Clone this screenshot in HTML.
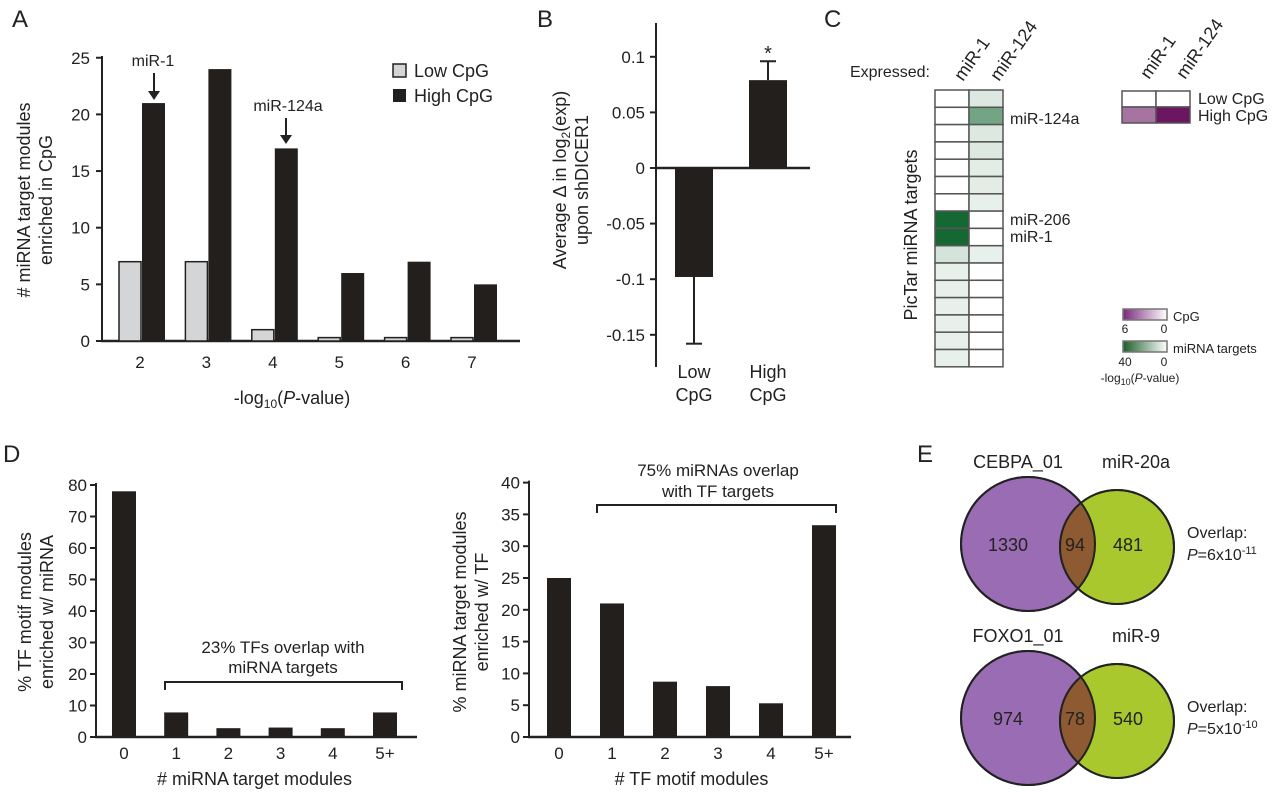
<!DOCTYPE html>
<html><head><meta charset="utf-8"><style>
body{margin:0;background:#fff}
svg text{font-family:"Liberation Sans",sans-serif;fill:#222}
</style></head><body>
<svg width="1280" height="791" viewBox="0 0 1280 791" xmlns="http://www.w3.org/2000/svg">
<g id="A"></g>
<g id="B"></g>
<g id="C"></g>
<g id="D1"></g>
<g id="D2"></g>
<g id="E"></g>
</svg>
<script>
// Panel A data
const aCats=["2","3","4","5","6","7"];
const aLow=[7,7,1,0.3,0.3,0.3];
const aHigh=[21,24,17,6,7,5];
const aTicks=[0,5,10,15,20,25];
// Panel B data
const bCats=["Low CpG","High CpG"];
const bVals=[-0.098,0.079];
const bErr=[0.06,0.017];
const bTicks=[0.1,0.05,0,-0.05,-0.1,-0.15];
const bTickLabels=["0.1","0.05","0","-0.05","-0.1","-0.15"];
// Panel C data (0..1 intensity)
const cMiR1=[0,0,0,0,0,0,0,1,1,0.18,0.1,0.1,0.1,0.1,0.1,0.1];
const cMiR124=[0.15,0.6,0.15,0.15,0.12,0.12,0.1,0,0,0.1,0,0,0,0,0,0];
const cCpG=[[0,0],[0.6,1]];
// Panel D data
const dLeftCats=["0","1","2","3","4","5+"];
const dLeftVals=[78,7.8,2.8,3,2.8,7.8];
const dLeftTicks=[0,10,20,30,40,50,60,70,80];
const dRightCats=["0","1","2","3","4","5+"];
const dRightVals=[25,21,8.7,8,5.3,33.3];
const dRightTicks=[0,5,10,15,20,25,30,35,40];
// Panel E data
const eSets=[["CEBPA_01","miR-20a",1330,94,481,"6x10","-11"],["FOXO1_01","miR-9",974,78,540,"5x10","-10"]];

const NS="http://www.w3.org/2000/svg";
function mk(parent,tag,attrs,text){const e=document.createElementNS(NS,tag);for(const k in attrs)e.setAttribute(k,attrs[k]);if(text!==undefined)e.textContent=text;parent.appendChild(e);return e;}
function T(p,x,y,s,size,anchor,extra){return mk(p,"text",Object.assign({x:x,y:y,"font-size":size||17,"text-anchor":anchor||"middle"},extra||{}),s);}

// ---------- A ----------
(function(){
const g=document.getElementById("A");
const y=v=>341-v*11.33, x0=140, dx=66.4;
T(g,12,27,"A",24,"start");
mk(g,"line",{x1:102,y1:56,x2:102,y2:341,stroke:"#222","stroke-width":2});
mk(g,"line",{x1:101,y1:341,x2:520,y2:341,stroke:"#222","stroke-width":2.5});
aTicks.forEach(t=>{mk(g,"line",{x1:96,y1:y(t),x2:102,y2:y(t),stroke:"#222","stroke-width":2});
 const e=T(g,90,y(t)+6,t,17,"end");});
aCats.forEach((c,i)=>{const cx=x0+i*dx;
 const lo=mk(g,"rect",{x:cx-21,y:y(aLow[i]),width:22,height:341-y(aLow[i]),fill:"#d4d5d6",stroke:"#222","stroke-width":1.5});
 
 const hi=mk(g,"rect",{x:cx+2,y:y(aHigh[i]),width:23,height:341-y(aHigh[i]),fill:"#231f1c"});
 
 const t=T(g,cx,368,c,17);});
T(g,292,404,"",18).innerHTML='-log<tspan font-size="12" dy="4">10</tspan><tspan dy="-4">(</tspan><tspan font-style="italic">P</tspan>-value)';
T(g,0,0,"# miRNA target modules",18,"middle",{transform:"translate(30,200) rotate(-90)"});
T(g,0,0,"enriched in CpG",18,"middle",{transform:"translate(52,200) rotate(-90)"});
T(g,153,66,"miR-1",16);
mk(g,"line",{x1:154,y1:73,x2:154,y2:95,stroke:"#222","stroke-width":2});mk(g,"path",{d:"M148,91 L154,100 L160,91Z",fill:"#222"});
T(g,288,111,"miR-124a",16);
mk(g,"line",{x1:286,y1:118,x2:286,y2:139,stroke:"#222","stroke-width":2});mk(g,"path",{d:"M280,135 L286,144 L292,135Z",fill:"#222"});
mk(g,"rect",{x:393,y:64,width:13,height:13,fill:"#d4d5d6",stroke:"#222","stroke-width":1.5});T(g,414,77,"Low CpG",18,"start");
mk(g,"rect",{x:393,y:89,width:13,height:13,fill:"#231f1c"});T(g,414,102,"High CpG",18,"start");
})();

// ---------- B ----------
(function(){
const g=document.getElementById("B");
const y=v=>168-v*1112;
const ax=656;
T(g,537,27,"B",24,"start");
mk(g,"line",{x1:ax,y1:23,x2:ax,y2:367,stroke:"#222","stroke-width":2});
mk(g,"line",{x1:ax-1,y1:168,x2:810,y2:168,stroke:"#222","stroke-width":2.5});
bTicks.forEach((t,i)=>{mk(g,"line",{x1:ax-6,y1:y(t),x2:ax,y2:y(t),stroke:"#222","stroke-width":2});
 const e=T(g,645,y(t)+6,bTickLabels[i],17,"end");});
const xs=[694,768];
bVals.forEach((v,i)=>{const top=Math.min(y(v),168),h=Math.abs(y(v)-168);
 const r=mk(g,"rect",{x:xs[i]-19,y:top,width:38,height:h,fill:"#231f1c"});
 const end=v<0?v-bErr[i]:v+bErr[i];
 mk(g,"line",{x1:xs[i],y1:y(v),x2:xs[i],y2:y(end),stroke:"#222","stroke-width":2});
 mk(g,"line",{x1:xs[i]-8,y1:y(end),x2:xs[i]+8,y2:y(end),stroke:"#222","stroke-width":2});
 const w=bCats[i].split(" ");T(g,xs[i],378,w[0],18);T(g,xs[i],401,w[1],18);});
T(g,768,60,"*",20);
T(g,0,0,"",18,"middle",{transform:"translate(566,180) rotate(-90)"}).innerHTML='Average Δ in log<tspan font-size="12" dy="4">2</tspan><tspan dy="-4">(exp)</tspan>';
T(g,0,0,"upon shDICER1",18,"middle",{transform:"translate(588,180) rotate(-90)"});
})();

// ---------- C ----------
(function(){
const g=document.getElementById("C");
T(g,824,27,"C",24,"start");
T(g,930,77,"Expressed:",16,"end");
T(g,0,0,"miR-1",18,"start",{transform:"translate(963,82) rotate(-55)"});
T(g,0,0,"miR-124",18,"start",{transform:"translate(999,82) rotate(-55)"});
const green=a=>`rgb(${Math.round(255-a*(255-22))},${Math.round(255-a*(255-104))},${Math.round(255-a*(255-50))})`;
const rh=17.3;
for(let i=0;i<16;i++){
 const a=mk(g,"rect",{x:935,y:90+i*rh,width:34,height:rh,fill:green(cMiR1[i]),stroke:"#555","stroke-width":1.5});
 const b=mk(g,"rect",{x:969,y:90+i*rh,width:34,height:rh,fill:green(cMiR124[i]),stroke:"#555","stroke-width":1.5});
}
T(g,1010,124,"miR-124a",16,"start");T(g,1010,225,"miR-206",16,"start");T(g,1010,242,"miR-1",16,"start");
T(g,0,0,"PicTar miRNA targets",18,"middle",{transform:"translate(917,235) rotate(-90)"});
T(g,0,0,"miR-1",18,"start",{transform:"translate(1149,80) rotate(-55)"});
T(g,0,0,"miR-124",18,"start",{transform:"translate(1185,80) rotate(-55)"});
const purple=a=>`rgb(${Math.round(255-a*(255-108))},${Math.round(255-a*(255-22))},${Math.round(255-a*(255-98))})`;
cCpG.forEach((row,r)=>row.forEach((v,c)=>{const e=mk(g,"rect",{x:1122+c*34,y:91+r*16,width:34,height:16,fill:purple(v),stroke:"#555","stroke-width":1.5});}));
T(g,1198,104,"Low CpG",16,"start");T(g,1198,121,"High CpG",16,"start");
const defs=mk(g,"defs",{});
const lp=mk(defs,"linearGradient",{id:"gp"});mk(lp,"stop",{offset:"0","stop-color":"#7a2a7a"});mk(lp,"stop",{offset:"1","stop-color":"#fff"});
const lg=mk(defs,"linearGradient",{id:"gg"});mk(lg,"stop",{offset:"0","stop-color":"#1e5e2a"});mk(lg,"stop",{offset:"1","stop-color":"#fff"});
mk(g,"rect",{x:1123,y:309,width:44,height:11,fill:"url(#gp)",stroke:"#777","stroke-width":1.5});T(g,1173,321,"CpG",13,"start");
T(g,1125,333,"6",12);T(g,1164,333,"0",12);
mk(g,"rect",{x:1123,y:341,width:44,height:11,fill:"url(#gg)",stroke:"#777","stroke-width":1.5});T(g,1173,353,"miRNA targets",13,"start");
T(g,1125,366,"40",12);T(g,1164,366,"0",12);
T(g,1140,382,"",12).innerHTML='-log<tspan font-size="9" dy="3">10</tspan><tspan dy="-3">(</tspan><tspan font-style="italic">P</tspan>-value)';
})();

// ---------- D ----------
function barPanel(id,x0,axisX,dx,cats,vals,ticks,scale,xlabel,ylab1,ylab2,ylx,xEnd){
 const g=document.getElementById(id);const yb=737;const y=v=>yb-v*scale;
 mk(g,"line",{x1:axisX,y1:y(ticks[ticks.length-1])-2,x2:axisX,y2:yb,stroke:"#222","stroke-width":2});
 mk(g,"line",{x1:axisX-1,y1:yb,x2:xEnd,y2:yb,stroke:"#222","stroke-width":2.5});
 ticks.forEach(t=>{mk(g,"line",{x1:axisX-6,y1:y(t),x2:axisX,y2:y(t),stroke:"#222","stroke-width":2});
  const e=T(g,axisX-9,y(t)+6,t,17,"end");});
 cats.forEach((c,i)=>{const cx=x0+i*dx;
  const r=mk(g,"rect",{x:cx-12,y:y(vals[i]),width:24,height:yb-y(vals[i]),fill:"#231f1c"});
  const t=T(g,cx,759,c,17);});
 T(g,(x0+x0+5*dx)/2,785,xlabel,18);
 T(g,0,0,ylab1,18,"middle",{transform:`translate(${ylx},612) rotate(-90)`});
 T(g,0,0,ylab2,18,"middle",{transform:`translate(${ylx+22},612) rotate(-90)`});
}
barPanel("D1",124,96,52.2,dLeftCats,dLeftVals,dLeftTicks,3.15,"# miRNA target modules","% TF motif modules","enriched w/ miRNA",31,417);
barPanel("D2",559,529,53,dRightCats,dRightVals,dRightTicks,6.36,"# TF motif modules","% miRNA target modules","enriched w/ TF",466,851);
(function(){const g=document.getElementById("D1");T(g,3,462,"D",24,"start");
 mk(g,"path",{d:"M165,690 L165,682 L402,682 L402,690",fill:"none",stroke:"#222","stroke-width":2});
 const a=T(g,283,653,"23% TFs overlap with",17);
 T(g,283,673,"miRNA targets",17);
})();
(function(){const g=document.getElementById("D2");
 mk(g,"path",{d:"M597,513 L597,505 L836,505 L836,513",fill:"none",stroke:"#222","stroke-width":2});
 T(g,718,476,"75% miRNAs overlap",17);T(g,718,497,"with TF targets",17);
})();

// ---------- E ----------
(function(){
const g=document.getElementById("E");
T(g,917,462,"E",24,"start");
eSets.forEach((s,i)=>{const cy=i?718:544;
 const c1=mk(g,"circle",{cx:1028,cy:cy,r:67,fill:"#9a6cb4",stroke:"#222","stroke-width":2});
 const c2=mk(g,"circle",{cx:1117,cy:cy+3,r:57,fill:"#a8c82e",stroke:"#222","stroke-width":2});
 const cp=mk(g,"clipPath",{id:"cp"+i});mk(cp,"circle",{cx:1028,cy:cy,r:67});
 mk(g,"circle",{cx:1117,cy:cy+3,r:57,fill:"#8e5a32","clip-path":`url(#cp${i})`});
 mk(g,"circle",{cx:1028,cy:cy,r:67,fill:"none",stroke:"#222","stroke-width":2});
 mk(g,"circle",{cx:1117,cy:cy+3,r:57,fill:"none",stroke:"#222","stroke-width":2});
 T(g,1008,cy+7,s[2],18);T(g,1075,cy+7,s[3],18);T(g,1128,cy+7,s[4],18);
 T(g,1018,cy-76,s[0],18);T(g,1136,cy-76,s[1],18);
 T(g,1187,cy-6,"Overlap:",16,"start");
 T(g,1187,cy+16,"",16,"start").innerHTML=`<tspan font-style="italic">P</tspan>=${s[5]}<tspan font-size="11" dy="-6">${s[6]}</tspan>`;
});
})();
</script>
</body></html>
